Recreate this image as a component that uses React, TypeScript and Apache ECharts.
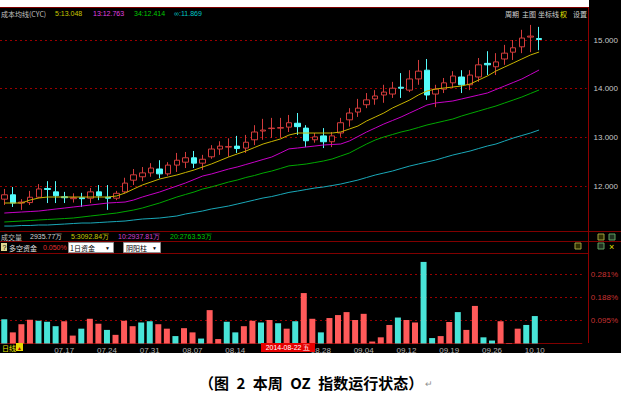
import React, { useEffect, useRef } from 'react';
import * as echarts from 'echarts';

// trading days shown (index 0 = 2014-07-08)
const dates = ['07.08','07.09','07.10','07.11','07.14','07.15','07.16','07.17','07.18','07.21','07.22','07.23','07.24','07.25','07.28','07.29','07.30','07.31',
  '08.01','08.04','08.05','08.06','08.07','08.08','08.11','08.12','08.13','08.14','08.15','08.18','08.19','08.20','08.21','08.22','08.25','08.26','08.27','08.28','08.29',
  '09.01','09.02','09.03','09.04','09.05','09.09','09.10','09.11','09.12','09.15','09.16','09.17','09.18','09.19','09.22','09.23','09.24','09.25','09.26','09.29','09.30',
  '10.08','10.09','10.10'];

// [open, close, low, high]
const candles = [
  [11.73, 11.82, 11.61, 11.94], [11.82, 11.65, 11.57, 11.98], [11.65, 11.67, 11.51, 11.73], [11.66, 11.77, 11.61, 11.90],
  [11.77, 11.94, 11.75, 12.04], [11.95, 11.93, 11.65, 12.10], [11.88, 11.80, 11.65, 12.10], [11.78, 11.76, 11.65, 11.88],
  [11.74, 11.76, 11.66, 11.85], [11.76, 11.74, 11.57, 11.86], [11.75, 11.88, 11.65, 11.96], [11.88, 11.80, 11.71, 12.02],
  [11.77, 11.75, 11.51, 12.02], [11.75, 11.85, 11.71, 11.90], [11.88, 12.06, 11.85, 12.17], [12.12, 12.23, 12.02, 12.35],
  [12.19, 12.27, 12.10, 12.39], [12.27, 12.37, 12.19, 12.47], [12.35, 12.25, 12.16, 12.53], [12.25, 12.43, 12.21, 12.49],
  [12.43, 12.53, 12.29, 12.68], [12.49, 12.58, 12.37, 12.70], [12.58, 12.47, 12.37, 12.72], [12.47, 12.55, 12.33, 12.64],
  [12.60, 12.76, 12.56, 12.84], [12.76, 12.82, 12.64, 12.92], [12.80, 12.81, 12.60, 12.98], [12.82, 12.77, 12.68, 13.03],
  [12.78, 12.90, 12.68, 13.05], [12.95, 13.11, 12.84, 13.25], [13.13, 13.15, 12.95, 13.38], [13.18, 13.19, 12.99, 13.40],
  [13.19, 13.20, 12.99, 13.40], [13.21, 13.30, 13.11, 13.46], [13.29, 13.22, 13.05, 13.50], [13.19, 12.93, 12.80, 13.25],
  [12.95, 13.01, 12.89, 13.09], [13.03, 12.91, 12.78, 13.19], [12.91, 13.03, 12.80, 13.11], [13.09, 13.30, 13.01, 13.40],
  [13.36, 13.50, 13.22, 13.60], [13.52, 13.60, 13.42, 13.79], [13.67, 13.77, 13.60, 13.91], [13.79, 13.85, 13.67, 13.97],
  [13.87, 13.93, 13.71, 14.08], [13.89, 14.01, 13.81, 14.14], [14.03, 14.01, 13.81, 14.32], [13.97, 14.20, 13.93, 14.38],
  [14.20, 14.36, 14.08, 14.59], [14.38, 13.87, 13.77, 14.61], [13.89, 13.99, 13.62, 14.08], [13.99, 14.12, 13.91, 14.22],
  [14.12, 14.26, 14.01, 14.36], [14.24, 14.08, 13.91, 14.38], [14.08, 14.28, 13.97, 14.38], [14.24, 14.49, 14.14, 14.63],
  [14.52, 14.49, 14.28, 14.77], [14.45, 14.55, 14.28, 14.73], [14.61, 14.73, 14.49, 14.90], [14.75, 14.84, 14.59, 15.00],
  [14.86, 15.04, 14.73, 15.21], [15.06, 15.08, 14.75, 15.31], [15.03, 15.01, 14.79, 15.27],
];

const cyc5 = [11.651, 11.651, 11.651, 11.713, 11.754, 11.774, 11.774, 11.774, 11.774, 11.774, 11.774, 11.774, 11.774, 11.795, 11.856, 11.939,
  12.021, 12.082, 12.144, 12.185, 12.226, 12.278, 12.329, 12.391, 12.452, 12.524, 12.596, 12.658, 12.719, 12.791, 12.863, 12.915,
  12.966, 13.048, 13.089, 13.089, 13.089, 13.089, 13.089, 13.110, 13.171, 13.233, 13.336, 13.418, 13.500, 13.603, 13.685, 13.767,
  13.870, 13.952, 13.993, 14.014, 14.034, 14.055, 14.096, 14.178, 14.260, 14.363, 14.445, 14.527, 14.610, 14.692, 14.753];

const cyc13 = [11.445, 11.456, 11.466, 11.476, 11.486, 11.507, 11.528, 11.548, 11.569, 11.589, 11.610, 11.630, 11.651, 11.661, 11.671, 11.713,
  11.774, 11.826, 11.877, 11.939, 12.000, 12.062, 12.134, 12.206, 12.247, 12.298, 12.349, 12.391, 12.442, 12.493, 12.545, 12.596,
  12.678, 12.763, 12.781, 12.802, 12.822, 12.843, 12.853, 12.863, 12.925, 13.017, 13.110, 13.192, 13.274, 13.346, 13.418, 13.500,
  13.582, 13.664, 13.706, 13.726, 13.747, 13.788, 13.829, 13.870, 13.911, 13.983, 14.055, 14.127, 14.199, 14.291, 14.384];

const cyc34 = [11.261, 11.271, 11.281, 11.291, 11.302, 11.312, 11.322, 11.332, 11.343, 11.363, 11.384, 11.404, 11.425, 11.445, 11.476, 11.507,
  11.548, 11.600, 11.651, 11.713, 11.774, 11.826, 11.877, 11.939, 11.980, 12.031, 12.082, 12.123, 12.175, 12.216, 12.267, 12.308,
  12.360, 12.414, 12.432, 12.452, 12.483, 12.514, 12.555, 12.617, 12.678, 12.771, 12.863, 12.945, 13.007, 13.058, 13.110, 13.151,
  13.202, 13.254, 13.295, 13.336, 13.377, 13.438, 13.490, 13.541, 13.593, 13.644, 13.706, 13.767, 13.829, 13.901, 13.973];

const cycInf = [11.178, 11.178, 11.189, 11.189, 11.199, 11.199, 11.209, 11.219, 11.230, 11.240, 11.240, 11.250, 11.261, 11.271, 11.281, 11.302,
  11.322, 11.332, 11.343, 11.363, 11.384, 11.425, 11.456, 11.487, 11.528, 11.558, 11.589, 11.630, 11.671, 11.713, 11.754, 11.784,
  11.826, 11.869, 11.897, 11.928, 11.959, 11.980, 12.010, 12.041, 12.082, 12.123, 12.175, 12.226, 12.267, 12.308, 12.360, 12.411,
  12.452, 12.493, 12.534, 12.586, 12.637, 12.678, 12.719, 12.771, 12.822, 12.863, 12.925, 12.986, 13.038, 13.089, 13.151];

// 多空资金 (%): positive = red bar, negative = cyan bar
const fund = [-0.098, 0.045, 0.078, 0.096, -0.092, -0.088, -0.070, 0.090, 0.032, -0.060, 0.100, 0.080, -0.055, 0.035, 0.092, 0.070,
  -0.085, -0.090, 0.078, 0.060, -0.030, 0.062, 0.045, -0.020, 0.135, 0.018, -0.088, -0.045, 0.070, 0.092, -0.085, 0.095,
  -0.082, 0.060, -0.090, 0.204, 0.100, -0.045, 0.103, 0.115, 0.127, 0.095, 0.120, 0.008, 0.025, 0.075, -0.105, 0.095,
  0.085, -0.330, -0.022, 0.030, 0.087, -0.127, 0.055, 0.152, -0.025, -0.012, 0.090, 0.002, 0.060, -0.075, -0.111];

const priceTicks = [12, 13, 14, 15];
const fundTicks = [0.095, 0.188, 0.281];
const padSlots = ['', '', '', '', ''];

const RED = '#d23c3c';
const CYAN = '#54fcfc';
const BAR_RED = '#ff5a5a';
const BAR_CYAN = '#48e4d8';
const GRID_RED = '#9a0000';
const SEP_RED = '#800000';
const CJK = '"Noto Sans CJK SC", sans-serif';
const LAT = '"Liberation Sans", Arial, sans-serif';

function txt(text: string, x: number, y: number, fill: string, fontSize = 7, family = CJK, extra: any = {}) {
  return { type: 'text', x, y, z: 50, silent: true,
    style: { text, fill, fontSize, fontFamily: family, textVerticalAlign: 'middle', ...extra } };
}
function hline(x1: number, x2: number, y: number, stroke: string) {
  return { type: 'line', z: 40, silent: true, shape: { x1, y1: y, x2, y2: y }, style: { stroke, lineWidth: 1 } };
}
function vline(x: number, y1: number, y2: number, stroke: string) {
  return { type: 'line', z: 40, silent: true, shape: { x1: x, y1, x2: x, y2 }, style: { stroke, lineWidth: 1 } };
}

export default function App() {
  const ref = useRef<HTMLDivElement>(null);
  useEffect(() => {
    if (!ref.current) return;
    const chart = echarts.init(ref.current, undefined, { renderer: 'svg' });
    const cats = dates.concat(padSlots);
    const labelShown = (i: number) => i >= 7 && i < dates.length && (i - 7) % 5 === 0 && i !== 32;
    const lineSeries = (data: number[], color: string) => ({
      type: 'line', xAxisIndex: 0, yAxisIndex: 0, data, symbol: 'none', silent: true, z: 4,
      lineStyle: { color, width: 1 },
    });
    const option: any = {
      animation: false,
      backgroundColor: '#000',
      grid: [
        { left: 0, top: 20, width: 588.2, height: 211, containLabel: false },
        { left: 0, top: 254.5, width: 588.2, height: 89, containLabel: false },
      ],
      xAxis: [
        { type: 'category', gridIndex: 0, data: cats, boundaryGap: true, axisLine: { show: false }, axisTick: { show: false }, axisLabel: { show: false }, splitLine: { show: false } },
        { type: 'category', gridIndex: 1, data: cats, boundaryGap: true,
          axisLine: { show: true, lineStyle: { color: SEP_RED, width: 1 } }, axisTick: { show: false },
          axisLabel: { interval: (i: number) => labelShown(i), color: '#b4b4b4', fontSize: 8, fontFamily: LAT, margin: 3 },
          splitLine: { show: false } },
      ],
      yAxis: [
        { type: 'value', gridIndex: 0, position: 'right', min: 11.076, max: 15.411, scale: true,
          axisLine: { show: false }, axisTick: { show: false, customValues: priceTicks },
          axisLabel: { customValues: priceTicks, formatter: (v: number) => v.toFixed(3), color: '#c8c8c8', fontSize: 8, fontFamily: LAT, margin: 7 },
          splitLine: { show: true, lineStyle: { color: GRID_RED, type: [2, 3], width: 1 } } },
        { type: 'value', gridIndex: 1, position: 'right', min: 0, max: 0.36,
          axisLine: { show: false }, axisTick: { show: false, customValues: fundTicks },
          axisLabel: { customValues: fundTicks, formatter: (v: number) => v.toFixed(3) + '%', color: '#c83232', fontSize: 8, fontFamily: LAT, margin: 9 },
          splitLine: { show: true, lineStyle: { color: GRID_RED, type: [2, 3], width: 1 } } },
      ],
      series: [
        { type: 'candlestick', xAxisIndex: 0, yAxisIndex: 0, data: candles, barWidth: 6, silent: true, z: 3,
          itemStyle: { color: '#000', color0: CYAN, borderColor: RED, borderColor0: CYAN, borderWidth: 1 } },
        lineSeries(cyc5, '#c8b400'),
        lineSeries(cyc13, '#c800c8'),
        lineSeries(cyc34, '#00a800'),
        lineSeries(cycInf, '#1aa8b8'),
        { type: 'bar', xAxisIndex: 1, yAxisIndex: 1, barWidth: 6, silent: true, z: 3,
          data: fund.map((v) => ({ value: Math.abs(v), itemStyle: { color: v >= 0 ? BAR_RED : BAR_CYAN } })) },
      ],
      graphic: [
        // paper margins
        { type: 'rect', z: 30, silent: true, shape: { x: 0, y: 0, width: 589, height: 7 }, style: { fill: '#fff' } },
        { type: 'rect', z: 30, silent: true, shape: { x: 0, y: 353, width: 621, height: 45 }, style: { fill: '#fff' } },
        // frame lines
        hline(0, 589, 7.5, SEP_RED),
        hline(0, 621, 231.5, SEP_RED),
        hline(0, 621, 241.5, SEP_RED),
        hline(0, 588, 253.5, SEP_RED),
        vline(588.5, 7, 343, '#8c0000'),
        // header of main chart
        txt('成本均线(CYC)', 1, 13.5, '#c0c0c0'),
        txt('5:13.048', 55, 13.5, '#c8c800', 7, LAT),
        txt('13:12.763', 93, 13.5, '#e040e0', 7, LAT),
        txt('34:12.414', 134, 13.5, '#00c800', 7, LAT),
        txt('∞:11.869', 174, 13.5, '#00c8c8', 7, LAT),
        txt('周期', 505, 14, '#d0d0d0'),
        txt('主图', 522, 14, '#d0d0d0'),
        txt('坐标线', 538, 14, '#d0d0d0'),
        txt('权', 560, 14, '#e8e800'),
        txt('设置', 573, 14, '#d0d0d0'),
        // volume indicator title row
        txt('成交量', 1, 236.5, '#c0c0c0'),
        txt('2935.77万', 30, 236.5, '#d0d0d0', 7, LAT),
        txt('5:3092.84万', 71, 236.5, '#c8c800', 7, LAT),
        txt('10:2937.81万', 118, 236.5, '#d040d0', 7, LAT),
        txt('20:2763.53万', 170, 236.5, '#00c800', 7, LAT),
        // 多空资金 row
        { type: 'rect', z: 45, silent: true, shape: { x: 1, y: 243, width: 6, height: 8 }, style: { fill: '#e0d890' } },
        txt('?', 2.5, 247.5, '#000', 7, LAT),
        txt('多空资金', 9, 247.5, '#e0e0e0'),
        txt('0.050%', 43, 247.5, '#e03030', 7, LAT),
        { type: 'rect', z: 45, silent: true, shape: { x: 68.5, y: 242.5, width: 45, height: 10 }, style: { fill: '#fff', stroke: '#909090', lineWidth: 1 } },
        txt('1日资金', 70, 247.5, '#000'),
        txt('▼', 105, 247.5, '#000', 5, LAT),
        { type: 'rect', z: 45, silent: true, shape: { x: 123.5, y: 242.5, width: 37, height: 10 }, style: { fill: '#fff', stroke: '#909090', lineWidth: 1 } },
        txt('阴阳柱', 126, 247.5, '#000'),
        txt('▼', 152, 247.5, '#000', 5, LAT),
        // small tool icons on the right
        { type: 'rect', z: 45, silent: true, shape: { x: 598, y: 234, width: 6, height: 6 }, style: { fill: '#303000', stroke: '#a0a040' } },
        { type: 'rect', z: 45, silent: true, shape: { x: 609, y: 234, width: 6, height: 6 }, style: { fill: '#203020', stroke: '#60a060' } },
        { type: 'rect', z: 45, silent: true, shape: { x: 575, y: 243, width: 6, height: 6 }, style: { fill: '#303000', stroke: '#a0a040' } },
        { type: 'rect', z: 45, silent: true, shape: { x: 598, y: 243, width: 6, height: 6 }, style: { fill: '#203020', stroke: '#60a060' } },
        txt('×', 609, 246.5, '#e0e000', 9, LAT),
        // bottom row
        txt('日线', 2, 347.5, '#e8e800'),
        { type: 'rect', z: 45, silent: true, shape: { x: 16, y: 343, width: 7, height: 8 }, style: { fill: '#e8d800' } },
        txt('▲', 17, 347.5, '#a00000', 5, LAT),
        { type: 'rect', z: 45, silent: true, shape: { x: 261, y: 343, width: 54, height: 9 }, style: { fill: '#e60000' } },
        txt('2014-08-22 五', 288, 347.5, '#fff', 7, LAT, { textAlign: 'center' }),
        // caption
        txt('（图\u20022\u2002本周\u2002OZ\u2002指数运行状态）', 311, 382.5, '#000', 15, CJK, { textAlign: 'center', fontWeight: 'bold' }),
        txt('↵', 425, 384, '#909090', 9, LAT),
      ],
    };
    chart.setOption(option);
    return () => chart.dispose();
  }, []);
  return <div ref={ref} style={{ position: 'absolute', left: 0, top: 0, width: 621, height: 398 }} />;
}
